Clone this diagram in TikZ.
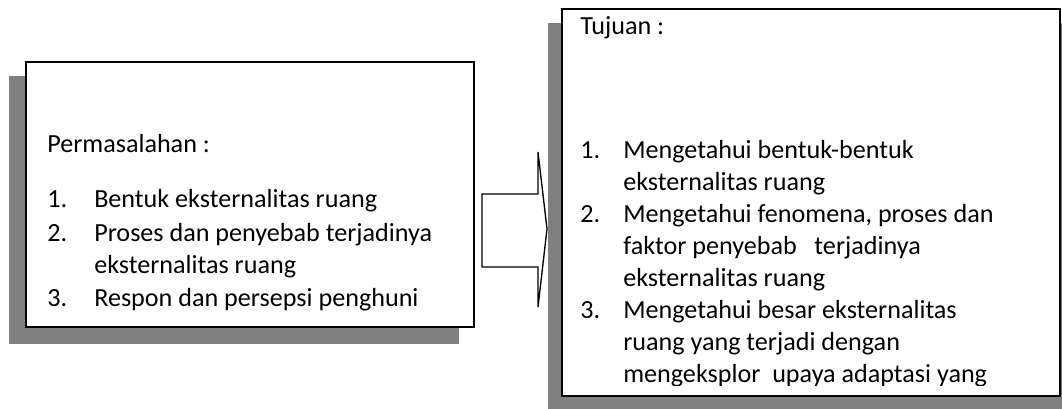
\documentclass[tikz,border=0pt]{standalone}
\usepackage{fontspec}
\setmainfont{Carlito}
\begin{document}
\begin{tikzpicture}[x=0.75pt,y=-0.75pt,
  txt/.style={anchor=base west,inner sep=0pt,font=\fontsize{19.6}{23}\selectfont},
  shadowbox/.style={fill=black!50,draw=none},
  mainbox/.style={draw=black,line width=1.2pt,fill=white},
  blockarrow/.style={draw=black,line width=1pt,fill=white,line join=miter}]
\useasboundingbox (0,0) rectangle (1062,409);
% left box
\fill[shadowbox] (9,76) rectangle (459,344);
\draw[mainbox] (26,62) rectangle (474,327);
\node[txt] (lt) at (47,153) {Permasalahan :};
\node[txt] (l1n) at (47,208) {1.};
\node[txt] (l1) at (94,208) {Bentuk eksternalitas ruang};
\node[txt] (l2n) at (47,241.5) {2.};
\node[txt] (l2) at (94,241.5) {Proses dan penyebab terjadinya};
\node[txt] (l2b) at (94,274) {eksternalitas ruang};
\node[txt] (l3n) at (47,306.5) {3.};
\node[txt] (l3) at (94,306.5) {Respon dan persepsi penghuni};
% right box
\fill[shadowbox] (548,23) rectangle (1062,409);
\draw[mainbox] (562,9) rectangle (1060,396);
\begin{scope}
\clip (562,9) rectangle (1060,385.5);
\node[txt] (rt) at (580,35) {Tujuan :};
\node[txt] (r1n) at (580,158.5) {1.};
\node[txt] (r1) at (623,158.5) {Mengetahui bentuk-bentuk};
\node[txt] (r1b) at (623,190.5) {eksternalitas ruang};
\node[txt] (r2n) at (580,222.5) {2.};
\node[txt] (r2) at (623,222.5) {Mengetahui fenomena, proses dan};
\node[txt] (r2b) at (623,254.5) {faktor penyebab\ \ \ terjadinya};
\node[txt] (r2c) at (623,286.5) {eksternalitas ruang};
\node[txt] (r3n) at (580,318.5) {3.};
\node[txt] (r3) at (623,318.5) {Mengetahui besar eksternalitas};
\node[txt] (r3b) at (623,350.5) {ruang yang terjadi dengan};
\node[txt] (r3c) at (623,382.5) {mengeksplor\ \ upaya adaptasi yang};
\end{scope}
% block arrow
\draw[blockarrow] (482,194) -- (538,194) -- (538,152) -- (547,229) -- (538,307) -- (538,267) -- (482,267) -- cycle;
\end{tikzpicture}
\end{document}
